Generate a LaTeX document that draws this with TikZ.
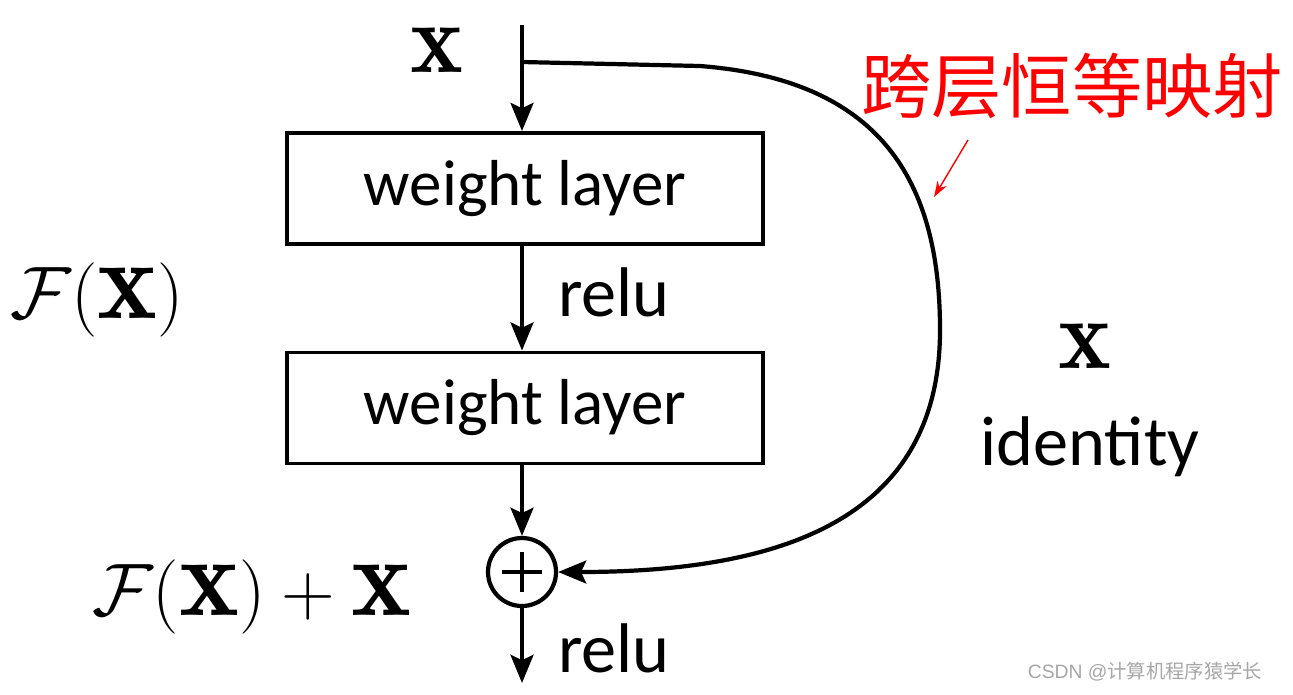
\documentclass[tikz,border=0pt]{standalone}
\usepackage{fontspec}
\usepackage{amsmath}
\setsansfont{Carlito}
\newfontfamily\cjk{Noto Sans CJK SC}
\usetikzlibrary{arrows.meta}
\begin{document}
\begin{tikzpicture}[x=0.02cm,y=-0.02cm,
  ln/.style={line width=2.4pt,-{Stealth[length=16pt,width=13pt,inset=3pt]}},
  lay/.style={draw,line width=2.2pt,minimum width=476*0.02cm,minimum height=111*0.02cm,font=\sffamily\fontsize{37}{40}\selectfont,inner sep=0pt},
  lbl/.style={font=\sffamily\fontsize{40}{44}\selectfont,inner sep=0pt},
  mth/.style={font=\fontsize{38}{44}\selectfont,inner sep=0pt}]
\useasboundingbox (0,0) rectangle (1293,694);
\node[lay] (b1) at (525,188.5) {weight layer};
\node[lay] (b2) at (525,408) {weight layer};
\node[draw,circle,line width=2.4pt,minimum size=68*0.02cm,inner sep=0pt] (add) at (522,572) {};
\draw[line width=2.6pt] ([xshift=-0.4cm]add.center) -- ([xshift=0.4cm]add.center)
  ([yshift=-0.4cm]add.center) -- ([yshift=0.4cm]add.center);
\coordinate (in) at (522,25);
\coordinate (out) at (522,683);
\coordinate (tap) at (522,62);
\draw[ln] (in) -- (b1.north -| in);
\draw[ln] (b1.south -| in) -- (b2.north -| in);
\draw[ln] (b2.south -| in) -- (add);
\draw[ln] (add) -- (out);
\draw[ln] (tap) -- (700,66) .. controls (880,80) and (940,180) .. (940,330)
  .. controls (940,520) and (780,572) .. (add.east);
\node[lbl] (r1) at (614,292) {relu};
\node[lbl] (r2) at (614,648) {relu};
\node[lbl] (id) at (1090,447) {identity};
\node[mth] (xin) at (437,50) {\scalebox{1.5}{$\mathbf{x}$}};
\node[mth] (xid) at (1085,346) {\scalebox{1.5}{$\mathbf{x}$}};
\node[mth] (fx) at (97,300) {\scalebox{1.7}{$\mathcal{F}(\mathbf{x})$}};
\node[mth] (fxx) at (252,597) {\scalebox{1.7}{$\mathcal{F}(\mathbf{x})+\mathbf{x}$}};
\node[text=red,font=\cjk\fontsize{40}{44}\selectfont,inner sep=0pt] (cn) at (1072,86) {跨层恒等映射};
\coordinate (tipA) at (968,140);
\coordinate (tipB) at (934,197);
\draw[red,line width=0.8pt,-{Stealth[length=9pt,width=6pt]}] (tipA) -- (tipB);
\node[text=gray!70,font=\sffamily\fontsize{11}{12}\selectfont\fontspec{Liberation Sans},inner sep=0pt] (wm) at (1145,672) {CSDN @{\cjk 计算机程序猿学长}};
\end{tikzpicture}
\end{document}
